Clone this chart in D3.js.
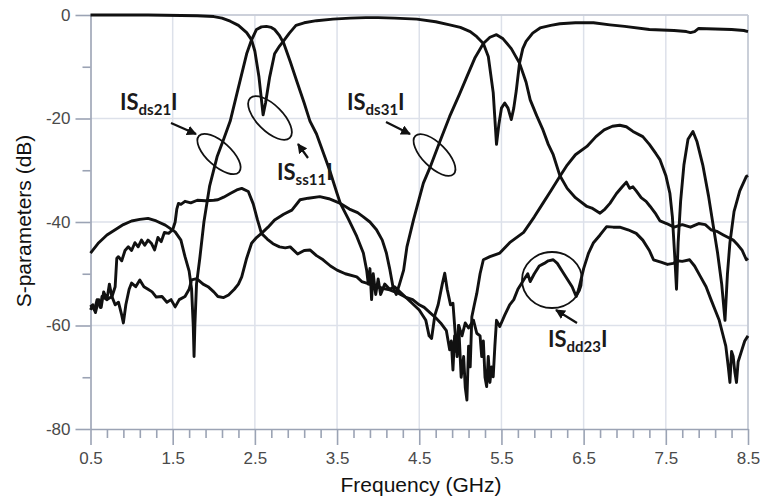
<!DOCTYPE html>
<html>
<head>
<meta charset="utf-8">
<script src="https://cdn.jsdelivr.net/npm/d3@7"></script>
<style>
  body { margin: 0; background: #fff; }
  svg { display: block; }
  .tick text { font-family: "Liberation Sans", Arial, sans-serif; font-size: 17px; fill: #4a4a4a; }
  .axis path, .axis line { stroke: #9ba3b4; stroke-width: 1.6; }
  .grid line { stroke: #dde1ea; stroke-width: 1.5; }
  .curve { fill: none; stroke: #111; stroke-width: 2.9; stroke-linejoin: round; }
  .note { font-family: Lato, "Open Sans", sans-serif; font-weight: bold; fill: #1a1a1a; }
  .ring { fill: none; stroke: #111; stroke-width: 1.8; }
</style>
</head>
<body>
<svg width="762" height="500"></svg>
<script>
// tick labels
const xTicks = [0.5, 1.5, 2.5, 3.5, 4.5, 5.5, 6.5, 7.5, 8.5];
const yTicks = [0, -20, -40, -60, -80];
const yMinor = [-10, -30, -50, -70];

// |Sss11|
const ss11F = [0.5,0.8,1.2,1.6,1.8,2.0,2.1,2.2,2.3,2.4,2.46,2.5,2.55,2.6,2.63,2.68,2.74,2.8,2.85,2.92,3.0,3.1,3.25,3.45,3.66,3.85,4.0,4.2,4.47,4.7,4.87,5.0,5.12,5.2,5.28,5.34,5.4,5.44,5.47,5.5,5.54,5.58,5.62,5.65,5.68,5.72,5.76,5.8,5.88,5.97,6.1,6.21,6.4,6.62,6.82,7.0,7.3,7.6,7.75,7.8,7.85,7.9,8.1,8.3,8.45,8.5];
const ss11 = [0,0,0,-0.1,-0.15,-0.3,-0.6,-1.2,-2.0,-3.4,-4.8,-7,-12,-19.3,-17,-12,-7.5,-6.0,-5.0,-3.5,-2.0,-1.5,-1.1,-0.8,-0.6,-0.5,-0.5,-0.6,-0.8,-1.3,-1.9,-2.4,-3.2,-4.2,-5.5,-8,-15,-25,-21,-18,-17,-18,-20.2,-18,-14.7,-9.3,-6.5,-5.1,-3.5,-2.5,-2.0,-1.7,-1.5,-1.5,-1.9,-2.2,-2.8,-3.0,-3.2,-3.4,-3.2,-2.6,-2.7,-2.8,-3.0,-3.2];

// |Sds21|
const ds21F = [0.5,0.6,0.7,0.8,0.9,1.0,1.1,1.2,1.3,1.41,1.53,1.6,1.65,1.7,1.73,1.75,1.76,1.77,1.79,1.83,1.88,1.95,2.04,2.12,2.2,2.3,2.4,2.46,2.52,2.58,2.64,2.7,2.74,2.8,2.85,2.93,3.01,3.1,3.17,3.25,3.41,3.5,3.54,3.64,3.74,3.82,3.86,3.88,3.9,3.92,3.94,3.97,4.0,4.03,4.08,4.14,4.2,4.3,4.4,4.5,4.58,4.62,4.65,4.69,4.73,4.78,4.81,4.84,4.88,4.91,4.94,4.96,4.98,5.01,5.04,5.06,5.08,5.1,5.12,5.14,5.17,5.2,5.24,5.28,5.36,5.48,5.6,5.77,5.9,6.0,6.1,6.21,6.3,6.4,6.54,6.65,6.75,6.85,6.94,7.02,7.1,7.22,7.3,7.38,7.43,7.5,7.55,7.58,7.61,7.63,7.65,7.68,7.72,7.77,7.83,7.88,7.95,8.02,8.08,8.13,8.18,8.22,8.25,8.28,8.33,8.4,8.48,8.5];
const ds21 = [-46,-44,-42.5,-41.5,-40.5,-39.8,-39.5,-39.3,-39.8,-40.6,-41.9,-43.5,-46.7,-49.5,-53,-60,-66,-60,-52,-47,-40,-33,-27.4,-24,-20.5,-14,-7.5,-4.8,-2.8,-2.3,-2.2,-2.4,-2.8,-4,-5.4,-9,-12.8,-17,-20.5,-23,-30,-34.5,-36.4,-39.5,-42.8,-46,-49.3,-52,-49,-55,-50,-54,-51,-54,-52,-53,-52.5,-54,-55.5,-57,-59,-62,-62.5,-58,-56,-52,-49.9,-53,-56,-55.7,-62,-66,-60,-70,-66,-72,-74.4,-64,-68,-58.3,-56,-53.8,-50,-47.3,-46.7,-46,-44,-42,-39,-36.5,-34,-31.2,-29,-27,-25.4,-23.5,-22.2,-21.5,-21.3,-21.6,-22.5,-23.5,-25,-26.8,-28,-31,-34.5,-39,-47,-53,-44,-36,-29,-24,-22.5,-24.5,-29,-35,-41,-46,-52,-59,-50,-44,-38,-34,-31.2,-31];

// |Sds31|
const ds31F = [0.5,0.55,0.58,0.62,0.64,0.7,0.76,0.8,0.84,0.88,0.9,0.93,0.97,1.0,1.05,1.1,1.15,1.2,1.25,1.3,1.37,1.43,1.48,1.53,1.58,1.65,1.7,1.73,1.78,1.81,1.87,1.93,2.0,2.05,2.12,2.18,2.25,2.3,2.34,2.4,2.46,2.52,2.58,2.66,2.74,2.85,2.95,3.05,3.15,3.29,3.4,3.54,3.65,3.75,3.82,3.9,3.98,4.05,4.1,4.14,4.18,4.22,4.26,4.31,4.35,4.43,4.55,4.63,4.75,4.87,4.99,5.08,5.18,5.28,5.36,5.44,5.52,5.62,5.72,5.8,5.85,5.93,6.0,6.07,6.13,6.21,6.3,6.4,6.54,6.6,6.7,6.76,6.82,6.9,6.97,7.02,7.06,7.1,7.14,7.2,7.26,7.31,7.38,7.43,7.51,7.6,7.7,7.8,7.9,7.98,8.05,8.12,8.2,8.26,8.32,8.38,8.43,8.48,8.5];
const ds31 = [-56,-57,-55,-56.5,-54.4,-55,-54.4,-56,-55.5,-58,-59.5,-56,-53,-51.8,-52.5,-51.2,-52.5,-53,-53.5,-54.5,-54.4,-55.5,-55,-56.4,-55,-54.4,-53,-51.2,-51,-51.2,-52,-52.5,-53.5,-54.4,-54.6,-54.1,-53,-52,-50.6,-47,-44.1,-43,-42.2,-41,-39.6,-38.5,-37.7,-35.7,-35.4,-35.1,-35.5,-36.4,-37.5,-38.2,-39,-40,-41.5,-43.5,-46,-49,-52.5,-54,-52,-49.3,-44.8,-39.6,-32.5,-29.5,-24.5,-19.6,-15.3,-11.9,-8.2,-5.5,-4.3,-3.8,-4.6,-6.5,-9.3,-13,-16.4,-19.5,-22,-25,-27,-31,-33.5,-35.3,-37,-37.3,-38.3,-37.5,-36.4,-34.5,-33.2,-32.3,-33.5,-33.2,-34,-35.3,-36,-37,-38.5,-39.8,-40.3,-41,-40.5,-41,-40.3,-40.5,-41.5,-41.8,-42.5,-43,-43.5,-44.5,-45.5,-47.3,-47];

// |Sdd23|
const dd23F = [0.5,0.53,0.56,0.6,0.63,0.66,0.7,0.73,0.76,0.8,0.82,0.84,0.88,0.92,0.96,1.0,1.04,1.08,1.12,1.16,1.2,1.24,1.28,1.32,1.36,1.4,1.45,1.5,1.53,1.55,1.57,1.6,1.65,1.72,1.8,1.9,2.0,2.05,2.12,2.2,2.28,2.34,2.42,2.48,2.53,2.58,2.65,2.72,2.8,2.87,2.93,3.02,3.1,3.17,3.25,3.33,3.42,3.5,3.6,3.74,3.8,3.86,3.95,4.05,4.14,4.25,4.33,4.42,4.5,4.56,4.63,4.7,4.76,4.83,4.87,4.89,4.91,4.93,4.95,4.98,5.02,5.06,5.1,5.16,5.2,5.24,5.26,5.28,5.3,5.32,5.34,5.36,5.38,5.4,5.42,5.44,5.48,5.54,5.6,5.65,5.7,5.77,5.82,5.85,5.9,5.96,6.02,6.07,6.13,6.18,6.24,6.3,6.36,6.41,6.44,6.5,6.56,6.62,6.7,6.78,6.86,6.94,7.04,7.14,7.22,7.3,7.35,7.45,7.52,7.59,7.64,7.7,7.79,7.85,7.92,7.99,8.05,8.1,8.15,8.19,8.23,8.26,8.28,8.3,8.32,8.34,8.36,8.38,8.42,8.46,8.5];
const dd23 = [-57,-56,-57.5,-55,-56.5,-53.5,-55,-52,-54.5,-52.5,-47,-46.7,-47.5,-45.5,-44.8,-45.5,-44,-44.8,-43.5,-44.5,-43.5,-44.1,-45.4,-43,-43.8,-42,-42.2,-41.5,-40,-37.5,-36.4,-36.6,-36,-36.3,-35.8,-35.9,-35.8,-35.7,-35.2,-34.5,-33.8,-33.5,-34.1,-36.5,-39.5,-42.2,-43.3,-44.2,-44.8,-45,-44.8,-46.2,-45.5,-45.4,-46.5,-47.3,-48.5,-49.3,-50,-50.6,-51.5,-51.8,-52.3,-52.8,-53.1,-53.8,-54.5,-55,-56,-56.5,-57.5,-58.5,-59.5,-61,-64.7,-63,-68.6,-62,-65,-60,-62,-59.5,-60.5,-59,-61.5,-62,-66,-63,-70,-71.8,-66,-71,-68,-69.9,-64,-59,-60.2,-58,-56,-55,-53,-51.2,-50,-51.5,-50,-48.5,-48,-47.5,-47.3,-48,-49.5,-51,-52.5,-54.4,-53,-49,-46,-44,-42.5,-40.9,-41,-41,-41.5,-42.2,-43.5,-45.5,-47.3,-47.8,-48.2,-48,-47.5,-47.6,-47.3,-48.5,-50.5,-52.5,-55,-57,-59,-61.5,-64,-68,-71,-65,-66,-69,-71,-67,-65,-63,-62];

var svg = d3.select("svg");

var x = d3.scaleLinear().domain([0.5, 8.5]).range([90.5, 748]);
var y = d3.scaleLinear().domain([-80, 0]).range([429, 15]);

// grid
var grid = svg.append("g").attr("class", "grid");
grid.selectAll(".v").data(xTicks.slice(1)).enter().append("line")
    .attr("x1", d => x(d)).attr("x2", d => x(d))
    .attr("y1", y(0)).attr("y2", y(-80));
grid.selectAll(".h").data(yTicks.slice(0, 4)).enter().append("line")
    .attr("x1", x(0.5)).attr("x2", x(8.5))
    .attr("y1", d => y(d)).attr("y2", d => y(d));

// frame top / right
svg.append("line").attr("x1", x(0.5)).attr("x2", x(8.5)).attr("y1", y(0)).attr("y2", y(0))
    .attr("stroke", "#c3c8d3").attr("stroke-width", 1.6);
svg.append("line").attr("x1", x(8.5)).attr("x2", x(8.5)).attr("y1", y(0)).attr("y2", y(-80))
    .attr("stroke", "#c3c8d3").attr("stroke-width", 1.6);

// axes
var xMinor = d3.range(0.7, 8.5, 0.2).filter(d => Math.abs((d - 0.5) % 1) > 0.05 && Math.abs((d - 0.5) % 1) < 0.95);

svg.append("g").attr("class", "axis")
    .attr("transform", "translate(0," + y(-80) + ")")
    .call(d3.axisBottom(x).tickValues(xMinor).tickSize(9).tickFormat(""))
    .select(".domain").remove();
svg.append("g").attr("class", "axis")
    .attr("transform", "translate(0," + y(-80) + ")")
    .call(d3.axisBottom(x).tickValues(xTicks).tickSize(16).tickSizeOuter(0).tickPadding(7).tickFormat(d3.format(".1f")));

svg.append("g").attr("class", "axis")
    .attr("transform", "translate(" + x(0.5) + ",0)")
    .call(d3.axisLeft(y).tickValues(yMinor).tickSize(8).tickFormat(""))
    .select(".domain").remove();
svg.append("g").attr("class", "axis")
    .attr("transform", "translate(" + x(0.5) + ",0)")
    .call(d3.axisLeft(y).tickValues(yTicks).tickSize(15).tickSizeOuter(0).tickPadding(5)
        .tickFormat(d => String(d)));

// axis titles
svg.append("text")
    .attr("transform", "translate(31,221) rotate(-90)")
    .attr("text-anchor", "middle")
    .style("font-family", "'Liberation Sans', Arial, sans-serif")
    .style("font-size", "21px").attr("fill", "#111")
    .text("S-parameters (dB)");
svg.append("text")
    .attr("x", 421).attr("y", 492)
    .attr("text-anchor", "middle")
    .style("font-family", "'Liberation Sans', Arial, sans-serif")
    .style("font-size", "21px").attr("fill", "#111")
    .text("Frequency (GHz)");

// curves
var line = d3.line().x(d => x(d[0])).y(d => y(d[1]));
var series = [[ss11F, ss11], [ds21F, ds21], [ds31F, ds31], [dd23F, dd23]];
svg.append("g").selectAll("path").data(series).enter().append("path")
    .attr("class", "curve")
    .attr("d", s => line(d3.zip(s[0], s[1])));

// annotations
svg.append("defs").append("marker")
    .attr("id", "head").attr("viewBox", "0 0 10 10")
    .attr("refX", 9).attr("refY", 5)
    .attr("markerWidth", 4.5).attr("markerHeight", 4.5)
    .attr("orient", "auto")
    .append("path").attr("d", "M0,0L10,5L0,10z").attr("fill", "#111");

function label(px, py, sub) {
    var t = svg.append("text").attr("class", "note").attr("x", px).attr("y", py);
    t.append("tspan").style("font-size", "22px").text("IS");
    t.append("tspan").style("font-size", "15px").attr("dy", 5).text(sub);
    t.append("tspan").style("font-size", "22px").attr("dy", -5).text("I");
}
function ring(cx, cy, rx, ry, a) {
    svg.append("ellipse").attr("class", "ring")
        .attr("rx", rx).attr("ry", ry)
        .attr("transform", "translate(" + cx + "," + cy + ") rotate(" + a + ")");
}
function arrow(x1, y1, x2, y2) {
    svg.append("line").attr("x1", x1).attr("y1", y1).attr("x2", x2).attr("y2", y2)
        .attr("stroke", "#111").attr("stroke-width", 2.2)
        .attr("marker-end", "url(#head)");
}

label(120, 110, "ds21");
ring(219, 154, 27, 12, 42);
arrow(171, 123, 196, 134);

ring(270, 118, 28, 13, 45);
arrow(308, 158, 298, 144);
label(277, 180, "ss11");

label(347, 110, "ds31");
ring(434.5, 155, 27, 12, 45);
arrow(386, 122, 410, 134);

ring(552, 280, 30, 28, 0);
arrow(577, 323, 556, 310);
label(548, 347, "dd23");
</script>
</body>
</html>
